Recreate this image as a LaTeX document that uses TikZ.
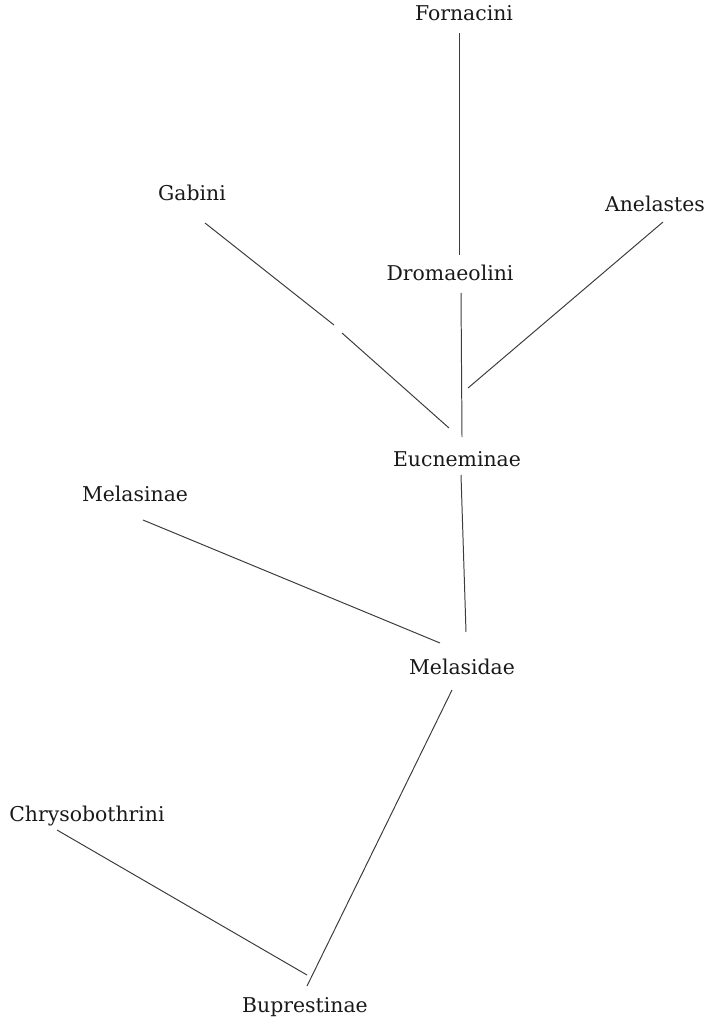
\documentclass[tikz,border=0pt]{standalone}
\usepackage{fontspec}
\usepackage{tikz}
\usetikzlibrary{positioning}
\usepackage{xcolor}
\newfontfamily\taxonfont{DejaVu Serif}
\definecolor{inkgray}{RGB}{25,25,25}
\definecolor{linegray}{RGB}{60,60,60}

\begin{document}
\begin{tikzpicture}[x=0.025cm, y=-0.025cm,
    taxon/.style={inner sep=0pt, text=inkgray, font=\taxonfont\fontsize{14.5}{17}\selectfont},
    branch/.style={draw=linegray, line width=0.7pt}]
    \useasboundingbox (0,0) rectangle (709,1023);
    \node[taxon] (fornacini) at (464,13) {Fornacini};
    \node[taxon] (gabini) at (192,193) {Gabini};
    \node[taxon] (anelastes) at (655,204) {Anelastes};
    \node[taxon] (dromaeolini) at (450,273) {Dromaeolini};
    \node[taxon] (eucneminae) at (457,459) {Eucneminae};
    \node[taxon] (melasinae) at (135,494) {Melasinae};
    \node[taxon] (melasidae) at (462,667) {Melasidae};
    \node[taxon] (chrysobothrini) at (87,816) {Chrysobothrini};
    \node[taxon] (buprestinae) at (305,1007) {Buprestinae};
    \coordinate (forn-end) at (459,33);
    \coordinate (drom-top) at (459,255);
    \coordinate (drom-end) at (461,293);
    \coordinate (eucn-top) at (462,437);
    \coordinate (gab-end) at (205,223);
    \coordinate (gab-gap1) at (334,325);
    \coordinate (gab-gap2) at (342,333);
    \coordinate (gab-join) at (449,428);
    \coordinate (anel-end) at (663,222);
    \coordinate (anel-join) at (468,388);
    \coordinate (eucn-end) at (461,475);
    \coordinate (mels-top) at (466,632);
    \coordinate (melsin-end) at (143,520);
    \coordinate (melsin-join) at (440,643);
    \coordinate (mels-end) at (452,690);
    \coordinate (bupr-top) at (307,986);
    \coordinate (chry-end) at (57,830);
    \coordinate (chry-join) at (307,975);
    \draw[branch] (forn-end) -- (drom-top);
    \draw[branch] (drom-end) -- (eucn-top);
    \draw[branch] (gab-end) -- (gab-gap1);
    \draw[branch] (gab-gap2) -- (gab-join);
    \draw[branch] (anel-end) -- (anel-join);
    \draw[branch] (eucn-end) -- (mels-top);
    \draw[branch] (melsin-end) -- (melsin-join);
    \draw[branch] (mels-end) -- (bupr-top);
    \draw[branch] (chry-end) -- (chry-join);
\end{tikzpicture}
\end{document}
